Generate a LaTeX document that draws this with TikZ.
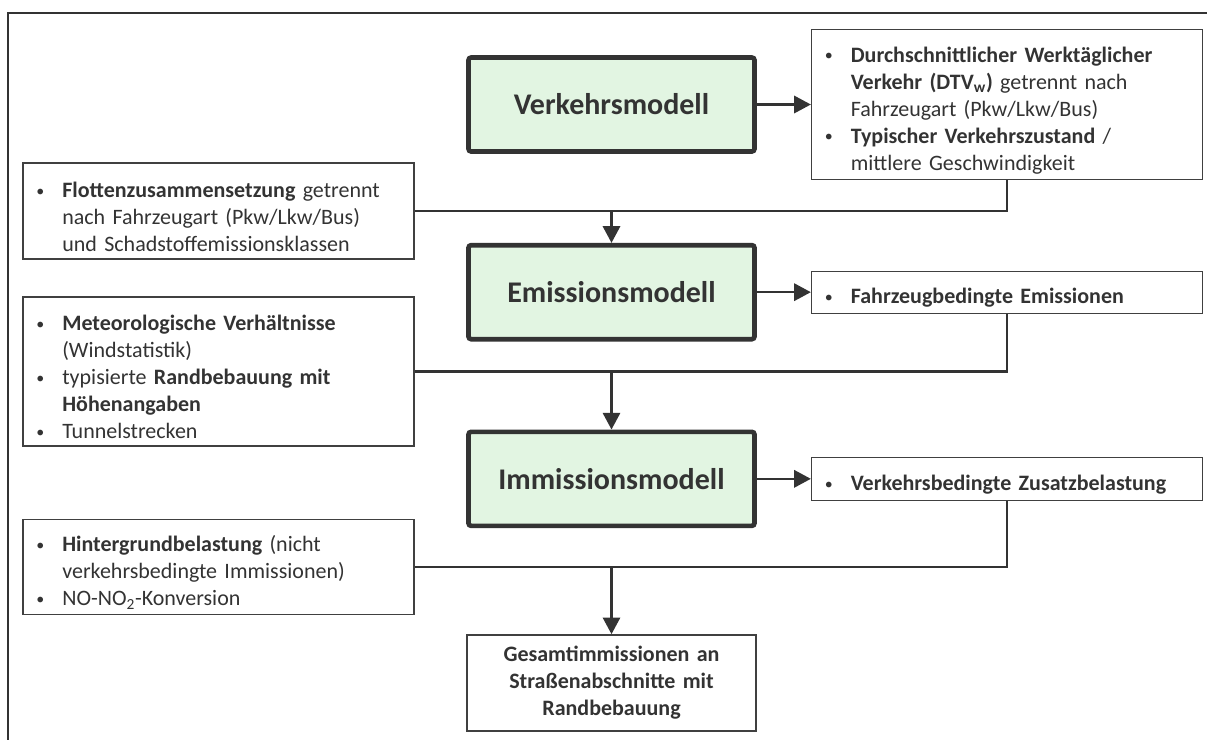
\documentclass[tikz,border=0pt]{standalone}
\usepackage{fontspec}
\setmainfont{Carlito}
\usepackage{tikz,xcolor}
\usetikzlibrary{arrows.meta,positioning}
\definecolor{modgreen}{HTML}{E2F5E2}
\definecolor{linegray}{HTML}{333333}
\newcommand{\bitem}{\par\noindent\hangindent=20.5pt\hangafter=1\makebox[20.5pt][l]{\hspace{1pt}\raisebox{1pt}{\fontsize{12}{12}\selectfont\textbullet}}}
\tikzset{arrow/.style = {line width=1.6pt,draw=linegray,-{Triangle[length=12.5pt,width=13pt]}}}

\begin{document}
\begin{tikzpicture}[x=0.75pt,y=-0.75pt,
    every node/.style={text=linegray},
    model/.style={shape=rectangle,draw=linegray,fill=modgreen,line width=3.5pt,rounded corners=2pt,
        minimum width=214.5pt,minimum height=70.5pt,font=\fontsize{22.5}{27}\selectfont\bfseries},
    info/.style={shape=rectangle,draw=black!75,line width=1pt,text width=275.25pt,inner xsep=9pt,
        inner ysep=4pt,align=left,font=\fontsize{16.5}{20.25}\selectfont},
    link/.style={line width=1.6pt,draw=linegray}]
    \useasboundingbox (0,0) rectangle (1207,740);
    \draw[line width=1.5pt,linegray] (1207,13) -- (8,13) -- (8,740);
    % create the nodes
    \node (verk) [model] at (611.5,104.5) {Verkehrsmodell};
    \node (emi) [model, below = 66.75pt of verk] {Emissionsmodell};
    \node (imm) [model, below = 66pt of emi] {Immissionsmodell};
    \node (ges) [info, below = 79.5pt of imm, text width=198.75pt, align=center, minimum height=72pt, font=\fontsize{16.5}{20.25}\selectfont\bfseries]
        {Gesamtimmissionen an\\Straßenabschnitte mit\\Randbebauung};
    \node (dtv) [info, right = 40.5pt of verk, minimum height=112.5pt]
        {\bitem \textbf{Durchschnittlicher Werktäglicher\break Verkehr (DTV\textsubscript{w})} getrennt nach\break Fahrzeugart (Pkw/Lkw/Bus)
         \bitem \textbf{Typischer Verkehrszustand} /\break mittlere Geschwindigkeit\par};
    \node (fzg) [info, right = 40.5pt of emi, minimum height=31.5pt]
        {\bitem \textbf{Fahrzeugbedingte Emissionen}\par};
    \node (zus) [info, right = 40.5pt of imm, minimum height=32.25pt]
        {\bitem \textbf{Verkehrsbedingte Zusatzbelastung}\par};
    \node (flotte) [info, minimum height=72pt] at (218.5,211)
        {\bitem \textbf{Flottenzusammensetzung} getrennt\break nach Fahrzeugart (Pkw/Lkw/Bus)\break und Schadstoffemissionsklassen\par};
    \node (meteo) [info, minimum height=111.75pt] at (218.5,371.5)
        {\bitem \textbf{Meteorologische Verhältnisse}\break (Windstatistik)
         \bitem typisierte \textbf{Randbebauung mit\break Höhenangaben}
         \bitem Tunnelstrecken\par};
    \node (hint) [info, minimum height=67.5pt] at (218.5,567)
        {\bitem \textbf{Hintergrundbelastung} (nicht\break verkehrsbedingte Immissionen)
         \bitem NO-NO\textsubscript{2}-Konversion\par};
    % connect the nodes
    \draw[arrow] (verk.east) -- (dtv.west);
    \draw[arrow] (emi.east) -- (fzg.west);
    \draw[arrow] (imm.east) -- (zus.west);
    \draw[link] (flotte.east) -- (flotte.east -| dtv.south) -- (dtv.south);
    \draw[arrow] (flotte.east -| emi.north) -- (emi.north);
    \draw[link] (meteo.east) -- (meteo.east -| fzg.south) -- (fzg.south);
    \draw[arrow] (meteo.east -| imm.north) -- (imm.north);
    \draw[link] (hint.east) -- (hint.east -| zus.south) -- (zus.south);
    \draw[arrow] (hint.east -| ges.north) -- (ges.north);
\end{tikzpicture}
\end{document}
